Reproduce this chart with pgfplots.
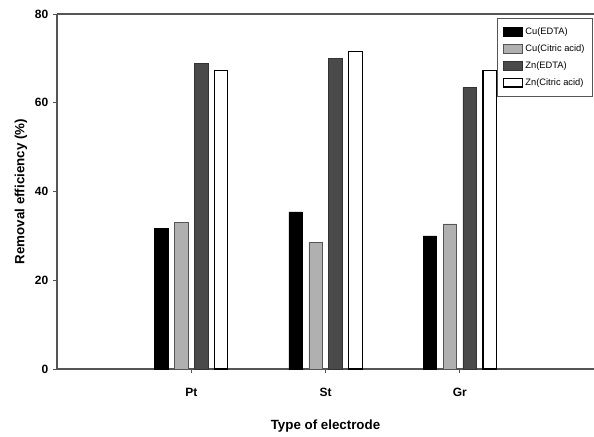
\documentclass[border=0pt]{standalone}
\usepackage{pgfplots}
\pgfplotsset{compat=1.18}
\usepackage{fontspec}
\setmainfont{Liberation Sans}
\definecolor{axgray}{HTML}{555555}
\definecolor{lgray}{HTML}{B0B0B0}
\definecolor{dgray}{HTML}{4A4A4A}
\begin{document}
\begin{tikzpicture}
\begin{axis}[
    name=ax,
    scale only axis,
    width=402.75pt, height=266.25pt,
    xmin=0, xmax=4,
    ymin=0, ymax=80,
    axis x line*=box, axis y line*=left,
    axis line style={draw=axgray, line width=0.8pt},
    xtick={1,2,3}, xticklabels={Pt,St,Gr},
    ytick={0,20,40,60,80},
    xtick pos=bottom, ytick pos=left,
    tick align=outside,
    major tick length=3pt,
    tick style={draw=axgray, line width=0.6pt},
    ticklabel style={font=\bfseries\fontsize{9}{10}\selectfont},
    /pgf/number format/assume math mode=true,
    xticklabel style={yshift=-8pt},
    xlabel={Type of electrode},
    ylabel={Removal efficiency (\%)},
    label style={font=\bfseries\fontsize{10}{12}\selectfont},
    xlabel style={yshift=-10pt},
    ylabel style={yshift=-1pt},
    bar width=0.1,
    ybar,
    legend style={at={(rel axis cs:0.998,0.99)}, anchor=north east,
        font=\fontsize{7}{8}\selectfont, draw=axgray, line width=0.6pt,
        row sep=2.2pt, inner xsep=4pt, inner ysep=5pt,
        legend cell align=left},
    legend image code/.code={\draw[#1] (0pt,-3.2pt) rectangle (14pt,3.4pt);},
]
\addplot[bar shift=-0.223, fill=black, draw=black, line width=0.5pt]
    coordinates {(1,31.6) (2,35.4) (3,30.0)};
\addplot[bar shift=-0.074, fill=lgray, draw=axgray, line width=0.5pt]
    coordinates {(1,33.0) (2,28.5) (3,32.7)};
\addplot[bar shift=0.074, fill=dgray, draw=black!80, line width=0.5pt]
    coordinates {(1,68.9) (2,70.0) (3,63.4)};
\addplot[bar shift=0.223, fill=white, draw=black, line width=0.8pt]
    coordinates {(1,67.2) (2,71.5) (3,67.2)};
\legend{Cu(EDTA), Cu(Citric acid), Zn(EDTA), Zn(Citric acid)}
\end{axis}
\pgfresetboundingbox
\path[use as bounding box] ([shift={(-42.75pt,-50.25pt)}]ax.south west) rectangle ([shift={(0pt,10.5pt)}]ax.north east);
\end{tikzpicture}
\end{document}
